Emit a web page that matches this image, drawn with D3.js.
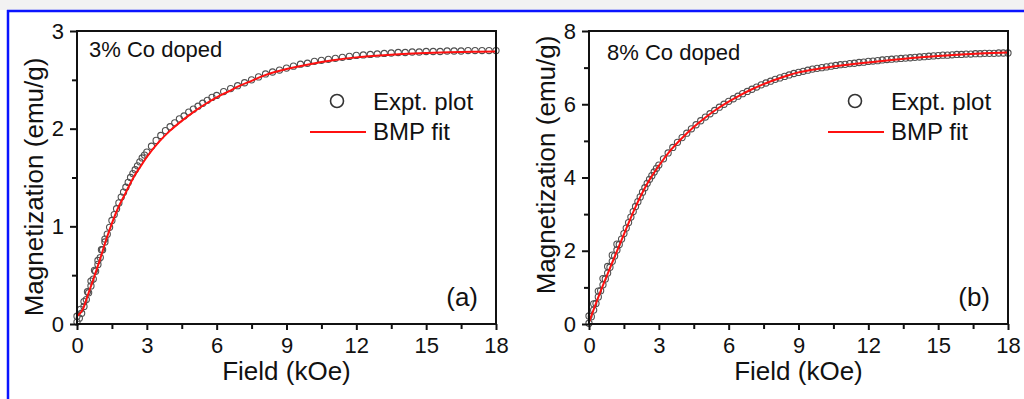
<!DOCTYPE html>
<html>
<head>
<meta charset="utf-8">
<script src="https://cdn.jsdelivr.net/npm/d3@7"></script>
<style>
  body { margin: 0; background: #fff; }
  svg { display: block; }
  text { font-family: "Liberation Sans", Arial, sans-serif; fill: #111; }
</style>
</head>
<body>
<svg id="chart" width="1024" height="399"></svg>
<script>
// ---- tick values ----
const fieldTicks = [0, 3, 6, 9, 12, 15, 18];
const fieldMinorTicks = [1.5, 4.5, 7.5, 10.5, 13.5, 16.5];
const magTicksA = [0, 1, 2, 3];
const magMinorTicksA = [0.5, 1.5, 2.5];
const magTicksB = [0, 2, 4, 6, 8];
const magMinorTicksB = [1, 3, 5, 7];

// ---- 3% Co doped: measured M(H) ----
const exptFieldA = [0, 0.1, 0.2, 0.3, 0.4, 0.5, 0.6, 0.7, 0.8, 0.9, 1.0, 1.1, 1.2, 1.3, 1.4, 1.5, 1.6, 1.7, 1.8, 1.9,
  2.0, 2.1, 2.2, 2.3, 2.4, 2.5, 2.6, 2.7, 2.8, 2.9, 3.0, 3.2, 3.4, 3.6, 3.8, 4.0, 4.2, 4.4, 4.6, 4.8,
  5.0, 5.2, 5.4, 5.6, 5.8, 6.0, 6.3, 6.6, 6.9, 7.2, 7.5, 7.8, 8.1, 8.4, 8.7, 9.0, 9.3, 9.6, 9.9, 10.2,
  10.5, 10.8, 11.1, 11.4, 11.7, 12.0, 12.3, 12.6, 12.9, 13.2, 13.5, 13.8, 14.1, 14.4, 14.7, 15.0, 15.3, 15.6, 15.9, 16.2,
  16.5, 16.8, 17.1, 17.4, 17.7, 18.0];
const exptMagA = [0.02, 0.06, 0.11, 0.18, 0.25, 0.32, 0.39, 0.46, 0.54, 0.61, 0.68, 0.76, 0.84, 0.92, 0.99, 1.06, 1.12, 1.18, 1.24, 1.30,
  1.35, 1.40, 1.45, 1.50, 1.54, 1.58, 1.62, 1.66, 1.70, 1.73, 1.76, 1.82, 1.88, 1.93, 1.98, 2.02, 2.06, 2.10, 2.13, 2.17,
  2.20, 2.23, 2.26, 2.29, 2.32, 2.34, 2.38, 2.41, 2.44, 2.47, 2.50, 2.53, 2.56, 2.58, 2.60, 2.62, 2.64, 2.66, 2.67, 2.69,
  2.70, 2.71, 2.72, 2.73, 2.74, 2.75, 2.755, 2.76, 2.765, 2.77, 2.775, 2.78, 2.78, 2.785, 2.785, 2.79, 2.79, 2.79, 2.795, 2.795,
  2.795, 2.80, 2.80, 2.80, 2.80, 2.80];
// low-field return sweep
const returnFieldA = [0, 0.15, 0.3, 0.45, 0.6, 0.75, 0.9, 1.05, 1.2];
const returnMagA = [0.08, 0.15, 0.23, 0.33, 0.44, 0.55, 0.65, 0.76, 0.87];

// ---- 3% Co doped: BMP fit ----
const fitFieldA = [0, 0.25, 0.5, 0.75, 1.0, 1.25, 1.5, 1.75, 2.0, 2.25, 2.5, 2.75, 3.0, 3.5, 4.0, 4.5, 5.0, 5.5, 6.0, 6.5,
  7.0, 7.5, 8.0, 8.5, 9.0, 10, 11, 12, 13, 14, 15, 16, 17, 18];
const fitMagA = [0.08, 0.15, 0.32, 0.49, 0.67, 0.86, 1.03, 1.18, 1.30, 1.42, 1.53, 1.62, 1.71, 1.86, 1.98, 2.08, 2.17, 2.25, 2.32, 2.38,
  2.44, 2.49, 2.54, 2.58, 2.61, 2.66, 2.70, 2.73, 2.75, 2.765, 2.775, 2.782, 2.787, 2.79];

// ---- 8% Co doped: measured M(H) ----
const exptFieldB = [0, 0.1, 0.2, 0.3, 0.4, 0.5, 0.6, 0.7, 0.8, 0.9, 1.0, 1.1, 1.2, 1.3, 1.4, 1.5, 1.6, 1.7, 1.8, 1.9,
  2.0, 2.1, 2.2, 2.3, 2.4, 2.5, 2.6, 2.7, 2.8, 2.9, 3.0, 3.2, 3.4, 3.6, 3.8, 4.0, 4.2, 4.4, 4.6, 4.8,
  5.0, 5.2, 5.4, 5.6, 5.8, 6.0, 6.2, 6.4, 6.6, 6.8, 7.0, 7.2, 7.4, 7.6, 7.8, 8.0, 8.2, 8.4, 8.6, 8.8,
  9.0, 9.2, 9.4, 9.6, 9.8, 10.0, 10.2, 10.4, 10.6, 10.8, 11.0, 11.2, 11.4, 11.6, 11.8, 12.0, 12.2, 12.4, 12.6, 12.8,
  13.0, 13.2, 13.4, 13.6, 13.8, 14.0, 14.2, 14.4, 14.6, 14.8, 15.0, 15.2, 15.4, 15.6, 15.8, 16.0, 16.2, 16.4, 16.6, 16.8,
  17.0, 17.2, 17.4, 17.6, 17.8, 18.0];
const exptMagB = [0.02, 0.20, 0.38, 0.56, 0.74, 0.91, 1.07, 1.23, 1.39, 1.55, 1.71, 1.86, 2.02, 2.17, 2.32, 2.47, 2.62, 2.77, 2.92, 3.07,
  3.21, 3.34, 3.47, 3.60, 3.72, 3.84, 3.95, 4.05, 4.15, 4.25, 4.34, 4.51, 4.67, 4.82, 4.96, 5.09, 5.21, 5.33, 5.44, 5.55,
  5.65, 5.74, 5.83, 5.92, 6.00, 6.08, 6.15, 6.22, 6.29, 6.35, 6.41, 6.47, 6.53, 6.58, 6.63, 6.68, 6.72, 6.76, 6.80, 6.84,
  6.87, 6.90, 6.93, 6.96, 6.98, 7.00, 7.02, 7.04, 7.06, 7.08, 7.09, 7.11, 7.12, 7.14, 7.15, 7.17, 7.18, 7.19, 7.21, 7.22,
  7.23, 7.24, 7.25, 7.26, 7.27, 7.28, 7.29, 7.30, 7.31, 7.32, 7.33, 7.34, 7.34, 7.35, 7.36, 7.36, 7.37, 7.37, 7.38, 7.38,
  7.39, 7.39, 7.39, 7.40, 7.40, 7.40];
const returnFieldB = [0, 0.2, 0.4, 0.6, 0.8, 1.0, 1.2];
const returnMagB = [0.22, 0.55, 0.90, 1.24, 1.57, 1.88, 2.18];

// ---- 8% Co doped: BMP fit ----
const fitFieldB = [0, 0.5, 1.0, 1.5, 2.0, 2.5, 3.0, 3.5, 4.0, 4.5, 5.0, 5.5, 6.0, 6.5, 7.0, 7.5, 8.0, 8.5, 9.0, 10,
  11, 12, 13, 14, 15, 16, 17, 18];
const fitMagB = [0.05, 0.90, 1.68, 2.45, 3.20, 3.83, 4.32, 4.74, 5.08, 5.38, 5.64, 5.87, 6.07, 6.25, 6.41, 6.55, 6.67, 6.78, 6.87, 6.98,
  7.07, 7.14, 7.21, 7.27, 7.32, 7.36, 7.39, 7.41];

const svg = d3.select("#chart");

// faint grey strip above the frame
svg.append("rect").attr("x", 0).attr("y", 0).attr("width", 1024).attr("height", 10).attr("fill", "#f2f2f2");
svg.append("rect").attr("x", 0).attr("y", 10).attr("width", 1024).attr("height", 389).attr("fill", "#fff");
// blue outer frame (top and left edges)
svg.append("line").attr("x1", 7).attr("x2", 1024).attr("y1", 11).attr("y2", 11)
  .attr("stroke", "#0a14ff").attr("stroke-width", 2.5);
svg.append("line").attr("x1", 8).attr("x2", 8).attr("y1", 10).attr("y2", 399)
  .attr("stroke", "#0a14ff").attr("stroke-width", 2.5);

const panels = [
  {
    left: 77, right: 496, top: 31, bottom: 324, yMax: 3,
    yTicks: magTicksA, yMinor: magMinorTicksA,
    expt: d3.zip(exptFieldA, exptMagA).concat(d3.zip(returnFieldA, returnMagA)),
    fit: d3.zip(fitFieldA, fitMagA),
    title: "3% Co doped", titleX: 89, titleY: 57,
    letter: "(a)", yTitleCenter: 187,
    legendX: 337
  },
  {
    left: 589, right: 1008, top: 31, bottom: 324, yMax: 8,
    yTicks: magTicksB, yMinor: magMinorTicksB,
    expt: d3.zip(exptFieldB, exptMagB).concat(d3.zip(returnFieldB, returnMagB)),
    fit: d3.zip(fitFieldB, fitMagB),
    title: "8% Co doped", titleX: 607, titleY: 60,
    letter: "(b)", yTitleCenter: 165,
    legendX: 855
  }
];

const fmt = d3.format("d");

panels.forEach(p => {
  const x = d3.scaleLinear().domain([0, 18]).range([p.left, p.right]);
  const y = d3.scaleLinear().domain([0, p.yMax]).range([p.bottom, p.top]);
  const g = svg.append("g");

  // measured points
  g.append("g").selectAll("circle").data(p.expt).join("circle")
    .attr("cx", d => x(d[0])).attr("cy", d => y(d[1])).attr("r", 3.1)
    .attr("fill", "none").attr("stroke", "#505050").attr("stroke-width", 1.1);

  // fit curve
  g.append("path").datum(p.fit)
    .attr("d", d3.line().x(d => x(d[0])).y(d => y(d[1])).curve(d3.curveMonotoneX))
    .attr("fill", "none").attr("stroke", "#ff1010").attr("stroke-width", 2);

  // axes
  const xAxis = g.append("g").attr("transform", `translate(0,${p.bottom})`)
    .call(d3.axisBottom(x).tickValues(fieldTicks).tickFormat(fmt).tickSize(6).tickSizeOuter(0).tickPadding(7));
  g.append("g").attr("transform", `translate(0,${p.bottom})`)
    .call(d3.axisBottom(x).tickValues(fieldMinorTicks).tickSize(5).tickFormat("").tickSizeOuter(0));
  const yAxis = g.append("g").attr("transform", `translate(${p.left},0)`)
    .call(d3.axisLeft(y).tickValues(p.yTicks).tickFormat(fmt).tickSize(7).tickSizeOuter(0).tickPadding(6));
  g.append("g").attr("transform", `translate(${p.left},0)`)
    .call(d3.axisLeft(y).tickValues(p.yMinor).tickSize(5).tickFormat("").tickSizeOuter(0));

  g.selectAll(".domain").remove();
  g.selectAll(".tick line").attr("stroke", "#111").attr("stroke-width", 2);
  [xAxis, yAxis].forEach(ax => ax.selectAll("text").attr("font-size", 22).attr("fill", "#111")
    .style("font-family", '"Liberation Sans", Arial, sans-serif'));

  // plot box
  g.append("rect").attr("x", p.left).attr("y", p.top)
    .attr("width", p.right - p.left).attr("height", p.bottom - p.top)
    .attr("fill", "none").attr("stroke", "#111").attr("stroke-width", 2);

  // axis titles
  g.append("text").attr("x", (p.left + p.right) / 2).attr("y", 380)
    .attr("text-anchor", "middle").attr("font-size", 26).text("Field (kOe)");
  g.append("text")
    .attr("transform", `translate(${p.left - 34},${p.yTitleCenter}) rotate(-90)`)
    .attr("text-anchor", "middle").attr("font-size", 26).text("Magnetization (emu/g)");

  // sample label and panel letter
  g.append("text").attr("x", p.titleX).attr("y", p.titleY).attr("font-size", 22).text(p.title);
  g.append("text").attr("x", p.right - 18).attr("y", 306).attr("text-anchor", "end")
    .attr("font-size", 26).text(p.letter);

  // legend
  g.append("circle").attr("cx", p.legendX).attr("cy", 101).attr("r", 6.5)
    .attr("fill", "none").attr("stroke", "#333").attr("stroke-width", 1.6);
  g.append("text").attr("x", p.legendX + 36).attr("y", 110).attr("font-size", 24).text("Expt. plot");
  g.append("line").attr("x1", p.legendX - 27).attr("x2", p.legendX + 29)
    .attr("y1", 132).attr("y2", 132).attr("stroke", "#ff1010").attr("stroke-width", 2);
  g.append("text").attr("x", p.legendX + 36).attr("y", 140).attr("font-size", 24).text("BMP fit");
});
</script>
</body>
</html>
